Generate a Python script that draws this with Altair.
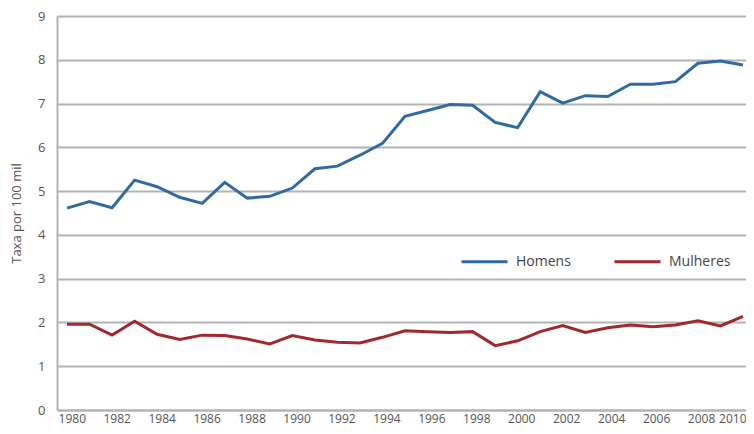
import altair as alt
import pandas as pd

anos = list(range(1980, 2011))
homens = [4.61, 4.76, 4.62, 5.25, 5.10, 4.86, 4.72, 5.20, 4.84, 4.88,
          5.07, 5.51, 5.57, 5.82, 6.09, 6.71, 6.84, 6.98, 6.96, 6.57,
          6.45, 7.27, 7.01, 7.18, 7.16, 7.44, 7.44, 7.50, 7.92, 7.97,
          7.88]
mulheres = [1.96, 1.96, 1.71, 2.03, 1.73, 1.61, 1.71, 1.70, 1.62, 1.51,
            1.70, 1.60, 1.55, 1.53, 1.66, 1.81, 1.79, 1.77, 1.79, 1.47,
            1.58, 1.79, 1.93, 1.77, 1.88, 1.94, 1.90, 1.94, 2.04, 1.92,
            2.14]
series = ["Homens", "Mulheres"]
cores = ["#2f6aa3", "#a1282c"]
y_ticks = list(range(0, 10))
x_ticks = list(range(1980, 2011, 2))

df = pd.DataFrame({
    "ano": anos * 2,
    "taxa": homens + mulheres,
    "serie": [series[0]] * len(anos) + [series[1]] * len(anos),
})
df_ticks = pd.DataFrame({"ano": x_ticks})

FONT = "Open Sans"
GRAY = "#b3b3b3"
TXT = "#555555"

lines = alt.Chart(df).mark_line(clip=True, strokeWidth=3).encode(
    x=alt.X("ano:Q", scale=alt.Scale(domain=[1979.556, 2010.133], nice=False, zero=False), axis=None),
    y=alt.Y("taxa:Q", scale=alt.Scale(domain=[0, 9], nice=False, zero=True),
            axis=alt.Axis(values=y_ticks, title="Taxa por 100 mil", grid=True,
                          gridColor=GRAY, gridWidth=2, domain=True, domainColor=GRAY,
                          domainWidth=2, ticks=False, labelPadding=12,
                          labelFontSize=13, labelColor=TXT, labelFont=FONT,
                          titleFont=FONT, titleFontSize=13, titleColor=TXT,
                          titleFontWeight="normal", titlePadding=14)),
    color=alt.Color("serie:N", scale=alt.Scale(domain=series, range=cores),
                    legend=alt.Legend(title=None, orient="none", direction="horizontal",
                                      legendX=403, legendY=221, symbolType="stroke",
                                      symbolSize=2116, symbolStrokeWidth=3,
                                      labelFontSize=14, labelFont=FONT, labelColor="#444444",
                                      labelOffset=7, columnPadding=37)),
)

xaxis = alt.Chart(df_ticks).mark_point(opacity=0).encode(
    x=alt.X("ano:Q", scale=alt.Scale(domain=[1979.343, 2010], nice=False, zero=False),
            axis=alt.Axis(values=x_ticks, format="d", title=None, grid=False,
                          domain=True, domainColor=GRAY, domainWidth=2, ticks=False,
                          labelPadding=3, labelFontSize=12, labelColor=TXT,
                          labelFont=FONT, labelOverlap=False, labelBound=False,
                          labelFlush=True)),
)

chart = alt.layer(lines, xaxis).resolve_scale(x="independent").properties(
    width=689, height=394,
    autosize=alt.AutoSizeParams(type="none"),
    padding={"left": 49, "top": 8, "right": 0, "bottom": 16},
).configure_view(stroke=None).configure(background="white")

chart.save("out.html", embed_options={"renderer": "svg", "actions": False})
